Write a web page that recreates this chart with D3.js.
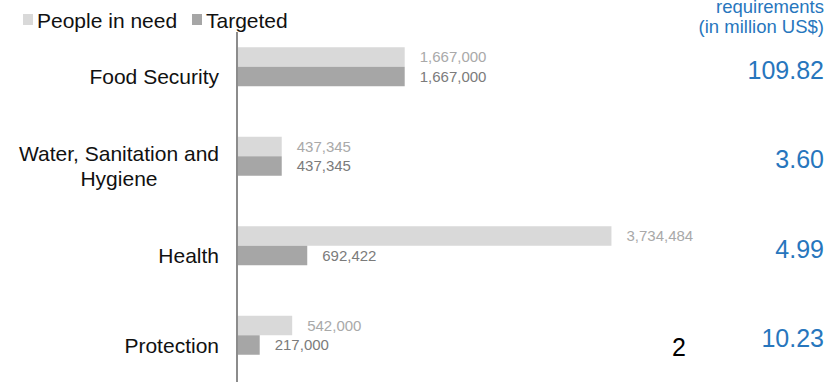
<!DOCTYPE html>
<html>
<head>
<meta charset="utf-8">
<script src="https://cdn.jsdelivr.net/npm/d3@7"></script>
<style>
  body { margin: 0; background: #fff; }
  svg { display: block; font-family: "Liberation Sans", Arial, sans-serif; }
</style>
</head>
<body>
<svg width="830" height="382"></svg>
<script>
var clusters = ['Food Security', 'Water, Sanitation and\nHygiene', 'Health', 'Protection'];
var peopleInNeed = [1667000, 437345, 3734484, 542000];
var targeted = [1667000, 437345, 692422, 217000];
var requirements = ['109.82', '3.60', '4.99', '10.23'];
var seriesNames = ['People in need', 'Targeted'];

var svg = d3.select('svg'),
  width = +svg.attr('width'),
  height = +svg.attr('height');

var colors = ['#d9d9d9', '#a6a6a6'];
var labelColors = ['#a9a9a9', '#7b7b7b'];
var blue = '#2776bd';

var x = d3.scaleLinear().domain([0, 4000000]).range([238, 638]);
var y0 = d3.scaleBand().domain(clusters).range([22, 380]);
var y1 = d3.scaleBand().domain(seriesNames).range([0, 39]);

var rows = clusters.map(function(c, i) {
  return { name: c, values: [peopleInNeed[i], targeted[i]], req: requirements[i] };
});

function mid(c) {
  return y0(c) + y0.bandwidth() / 2;
}

// legend
var legend = svg.append('g');
var lx = [23, 192];
seriesNames.forEach(function(s, i) {
  legend.append('rect')
    .attr('x', lx[i]).attr('y', 14)
    .attr('width', 10).attr('height', 11)
    .attr('fill', colors[i]);
  legend.append('text')
    .attr('x', lx[i] + 14).attr('y', 28)
    .attr('font-size', 21)
    .attr('fill', '#111')
    .text(s);
});

// column header
var head = svg.append('text')
  .attr('text-anchor', 'end')
  .attr('font-size', 18.5)
  .attr('fill', blue);
head.append('tspan').attr('x', 824).attr('y', 13).text('requirements');
head.append('tspan').attr('x', 824).attr('y', 33).text('(in million US$)');

// bars
var group = svg.append('g')
  .selectAll('g')
  .data(rows)
  .enter()
  .append('g')
  .attr('transform', function(d) {
    return 'translate(0,' + (mid(d.name) - 19.5) + ')';
  });

group.selectAll('rect')
  .data(function(d) { return d.values; })
  .enter()
  .append('rect')
  .attr('x', x(0))
  .attr('y', function(d, i) { return y1(seriesNames[i]); })
  .attr('width', function(d) { return x(d) - x(0); })
  .attr('height', y1.bandwidth())
  .attr('fill', function(d, i) { return colors[i]; });

group.selectAll('text.val')
  .data(function(d) { return d.values; })
  .enter()
  .append('text')
  .attr('class', 'val')
  .attr('x', function(d) { return x(d) + 15; })
  .attr('y', function(d, i) { return y1(seriesNames[i]) + y1.bandwidth() / 2; })
  .attr('dy', '0.36em')
  .attr('font-size', 15)
  .attr('fill', function(d, i) { return labelColors[i]; })
  .text(function(d) { return d3.format(',')(d); });

// axis line
svg.append('line')
  .attr('x1', x(0) - 1).attr('x2', x(0) - 1)
  .attr('y1', 32).attr('y2', height)
  .attr('stroke', '#8c8c8c')
  .attr('stroke-width', 2);

// category labels
rows.forEach(function(d) {
  var lines = d.name.split('\n');
  var t = svg.append('text')
    .attr('font-size', 21)
    .attr('fill', '#111')
    .attr('text-anchor', 'middle');
  var top = mid(d.name) + 10 - (lines.length - 1) * 12.5;
  var spans = lines.map(function(l, j) {
    return t.append('tspan').attr('y', top + j * 25).attr('dy', '0.35em').text(l);
  });
  var w = d3.max(spans, function(s) { return s.node().getComputedTextLength(); });
  spans.forEach(function(s) { s.attr('x', 219 - w / 2); });
});

// requirement values
svg.append('g')
  .selectAll('text')
  .data(rows)
  .enter()
  .append('text')
  .attr('x', 824)
  .attr('y', function(d) { return mid(d.name) + 3; })
  .attr('dy', '0.35em')
  .attr('text-anchor', 'end')
  .attr('font-size', 25)
  .attr('fill', blue)
  .text(function(d) { return d.req; });

// page number
svg.append('text')
  .attr('x', 679).attr('y', 347)
  .attr('dy', '0.35em')
  .attr('text-anchor', 'middle')
  .attr('font-size', 25)
  .attr('fill', '#000')
  .text('2');
</script>
</body>
</html>
